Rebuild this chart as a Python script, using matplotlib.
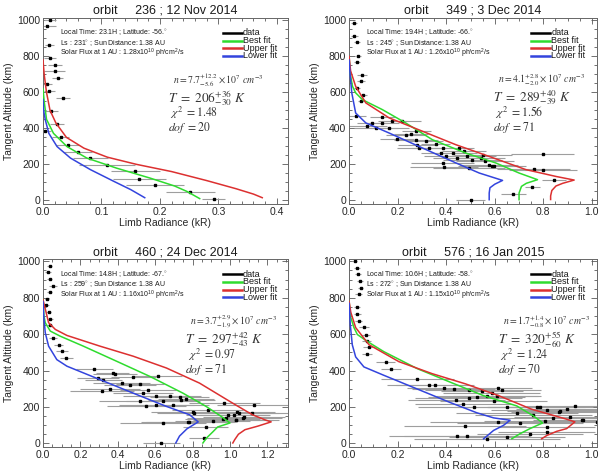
import matplotlib
matplotlib.use("Agg")
import matplotlib.pyplot as plt
from matplotlib.ticker import MultipleLocator

plt.rcParams['font.family'] = ['Liberation Sans', 'DejaVu Sans']
plt.rcParams['mathtext.fontset'] = 'custom'
plt.rcParams['mathtext.rm'] = 'Liberation Sans'
plt.rcParams['mathtext.it'] = 'Liberation Sans:italic'

# ---------------- panel 1 : orbit 236 ----------------
title1 = 'orbit     236 ; 12 Nov 2014'
info1 = ['Local Time: 23.1H ; Latitude: -56.$^{\\circ}$',
         'Ls : 231$^{\\circ}$ ; Sun Distance: 1.38 AU',
         'Solar Flux at 1 AU : 1.28x10$^{10}$ ph/cm$^{2}$/s']
fit1 = ['n = 7.7^{+12.2}_{-5.6}', '206^{+36}_{-30}', '1.48', '20']
rad1 = [0.012, 0.006, 0.011, 0.012, 0.021, 0.020, 0.025, 0.006, 0.011, 0.034, 0.014, 0.024,
        0.004, 0.030, 0.042, 0.059, 0.081, 0.109, 0.158, 0.165, 0.192, 0.252, 0.292]
alt1 = [1004, 969, 862, 788, 751, 718, 681, 644, 609, 570, 498, 424,
        387, 351, 308, 271, 234, 197, 161, 120, 83, 46, 7]
err1 = [0.010, 0.017, 0.008, 0.010, 0.012, 0.018, 0.010, 0.010, 0.010, 0.012, 0.012, 0.012,
        0.010, 0.015, 0.020, 0.025, 0.030, 0.048, 0.042, 0.045, 0.050, 0.042, 0.020]
best1_r = [0.0, 0.002, 0.006, 0.018, 0.041, 0.075, 0.126, 0.183, 0.225, 0.246, 0.268]
best1_a = [620, 550, 450, 372, 299, 235, 179, 124, 80, 50, 10]
up1_r = [0.0, 0.002, 0.006, 0.012, 0.022, 0.040, 0.070, 0.110, 0.160, 0.220, 0.280, 0.330, 0.360, 0.375]
up1_a = [780, 700, 600, 500, 430, 350, 290, 240, 200, 160, 110, 65, 35, 15]
low1_r = [0.0, 0.001, 0.004, 0.010, 0.024, 0.047, 0.081, 0.121, 0.150, 0.174]
low1_a = [560, 500, 446, 372, 299, 235, 171, 106, 60, 15]

# ---------------- panel 2 : orbit 349 ----------------
title2 = 'orbit     349 ; 3 Dec 2014'
info2 = ['Local Time: 19.4H ; Latitude: -66.$^{\\circ}$',
         'Ls : 245$^{\\circ}$ ; Sun Distance: 1.38 AU',
         'Solar Flux at 1 AU : 1.26x10$^{10}$ ph/cm$^{2}$/s']
fit2 = ['n = 4.1^{+2.8}_{-2.0}', '289^{+40}_{-39}', '1.56', '71']
rad2 = [0.021, 0.021, 0.034, 0.038, 0.034, 0.052, 0.049, 0.034, 0.058, 0.048, 0.030, 0.137,
        0.178, 0.217, 0.094, 0.135, 0.165, 0.075, 0.110, 0.277, 0.254, 0.199, 0.275, 0.233,
        0.316, 0.281, 0.357, 0.385, 0.288, 0.330, 0.453, 0.474, 0.426, 0.378, 0.487, 0.446,
        0.398, 0.543, 0.508, 0.798, 0.577, 0.588, 0.494, 0.385, 0.392, 0.760, 0.800, 0.845,
        0.755, 0.677, 0.501, 0.550, 0.560, 0.595]
alt2 = [985, 915, 878, 804, 767, 698, 661, 624, 587, 550, 470, 463,
        439, 439, 430, 430, 402, 411, 402, 383, 371, 341, 337, 365,
        328, 309, 313, 291, 291, 291, 291, 272, 263, 263, 244, 235,
        244, 235, 226, 258, 196, 193, 182, 208, 185, 176, 171, 111,
        74, 37, 2, 254, 217, 193]
err2 = [0.012, 0.015, 0.012, 0.010, 0.012, 0.020, 0.015, 0.012, 0.015, 0.012, 0.040, 0.050,
        0.060, 0.080, 0.060, 0.070, 0.080, 0.080, 0.090, 0.060, 0.070, 0.070, 0.090, 0.080,
        0.070, 0.080, 0.060, 0.080, 0.090, 0.070, 0.060, 0.090, 0.100, 0.080, 0.120, 0.100,
        0.090, 0.100, 0.120, 0.130, 0.120, 0.140, 0.150, 0.130, 0.140, 0.150, 0.140, 0.050,
        0.030, 0.050, 0.060, 0.120, 0.120, 0.100]
best2_r = [0.0, 0.005, 0.014, 0.027, 0.055, 0.137, 0.233, 0.343, 0.480, 0.604, 0.700, 0.776,
           0.730, 0.710, 0.700, 0.700]
best2_a = [790, 700, 633, 597, 559, 504, 430, 337, 263, 208, 152, 115, 95, 78, 41, 4]
up2_r = [0.0, 0.006, 0.027, 0.069, 0.165, 0.302, 0.440, 0.577, 0.728, 0.852, 0.927, 0.880,
         0.852, 0.835, 0.830, 0.830]
up2_a = [800, 720, 633, 541, 458, 384, 309, 244, 171, 133, 113, 95, 80, 55, 25, 5]
low2_r = [0.0, 0.004, 0.011, 0.027, 0.069, 0.165, 0.302, 0.440, 0.536, 0.632, 0.600, 0.580,
          0.577, 0.577]
low2_a = [780, 700, 597, 485, 430, 374, 291, 208, 152, 111, 90, 70, 41, 4]

# ---------------- panel 3 : orbit 460 ----------------
title3 = 'orbit     460 ; 24 Dec 2014'
info3 = ['Local Time: 14.8H ; Latitude: -67.$^{\\circ}$',
         'Ls : 259$^{\\circ}$ ; Sun Distance: 1.38 AU',
         'Solar Flux at 1 AU : 1.16x10$^{10}$ ph/cm$^{2}$/s']
fit3 = ['n = 3.7^{+2.9}_{-1.9}', '297^{+42}_{-43}', '0.97', '71']
rad3 = [0.035, 0.027, 0.035, 0.053, 0.035, 0.021, 0.018, 0.030, 0.039, 0.035, 0.053, 0.083,
        0.101, 0.124, 0.275, 0.372, 0.385, 0.294, 0.323, 0.482, 0.615, 0.420, 0.465, 0.518,
        0.358, 0.314, 0.562, 0.535, 0.606, 0.677, 0.730, 0.766, 0.740, 0.642, 0.518, 0.606,
        0.553, 0.695, 0.807, 0.970, 1.130, 1.050, 1.120, 1.076, 1.032, 0.979, 0.908, 0.775,
        0.642, 0.869, 0.860, 0.633, 1.030, 1.067, 1.023, 1.040, 0.987, 0.881, 0.960, 0.783, 0.800]
alt3 = [972, 939, 902, 866, 832, 796, 759, 722, 685, 648, 580, 543,
        506, 470, 409, 387, 379, 359, 350, 363, 368, 331, 322, 326,
        298, 285, 295, 276, 262, 262, 254, 243, 239, 230, 230, 212,
        203, 212, 166, 221, 212, 166, 166, 147, 129, 138, 123, 116,
        110, 92, 28, 2, 131, 142, 155, 173, 155, 182, 136, 118, 173]
err3 = [0.015, 0.015, 0.015, 0.020, 0.015, 0.012, 0.012, 0.015, 0.015, 0.015, 0.020, 0.025,
        0.030, 0.035, 0.100, 0.090, 0.120, 0.110, 0.100, 0.120, 0.130, 0.150, 0.140, 0.130,
        0.160, 0.170, 0.150, 0.160, 0.180, 0.170, 0.160, 0.150, 0.180, 0.200, 0.220, 0.200,
        0.210, 0.190, 0.200, 0.190, 0.200, 0.210, 0.200, 0.220, 0.230, 0.210, 0.200, 0.250,
        0.230, 0.120, 0.080, 0.100, 0.200, 0.210, 0.190, 0.200, 0.220, 0.190, 0.200, 0.230, 0.220]
best3_r = [0.0, 0.005, 0.012, 0.039, 0.092, 0.216, 0.394, 0.571, 0.748, 0.872, 0.950, 1.000,
           0.934, 0.907, 0.875, 0.855]
best3_a = [790, 700, 663, 617, 589, 534, 451, 368, 276, 203, 150, 112, 90, 62, 30, 2]
up3_r = [0.0, 0.030, 0.066, 0.128, 0.305, 0.482, 0.660, 0.837, 1.014, 1.120, 1.190, 1.220,
         1.150, 1.080, 1.045, 1.025, 1.015]
up3_a = [790, 663, 626, 593, 534, 479, 414, 331, 221, 157, 128, 118, 95, 75, 50, 20, 2]
low3_r = [0.0, 0.004, 0.012, 0.030, 0.074, 0.128, 0.305, 0.482, 0.660, 0.784, 0.830, 0.770,
          0.730, 0.710]
low3_a = [780, 700, 608, 534, 460, 424, 350, 276, 203, 157, 118, 80, 40, 2]

# ---------------- panel 4 : orbit 576 ----------------
title4 = 'orbit     576 ; 16 Jan 2015'
info4 = ['Local Time: 10.6H ; Latitude: -58.$^{\\circ}$',
         'Ls : 272$^{\\circ}$ ; Sun Distance: 1.38 AU',
         'Solar Flux at 1 AU : 1.15x10$^{10}$ ph/cm$^{2}$/s']
fit4 = ['n = 1.7^{+1.4}_{-0.8}', '320^{+55}_{-60}', '1.24', '70']
rad4 = [0.023, 0.034, 0.036, 0.044, 0.047, 0.040, 0.031, 0.034, 0.040, 0.061, 0.068, 0.072,
        0.082, 0.075, 0.150, 0.173, 0.280, 0.328, 0.355, 0.389, 0.430, 0.492, 0.547, 0.615,
        0.629, 0.588, 0.567, 0.526, 0.492, 0.609, 0.441, 0.595, 0.471, 0.513, 0.650, 0.773,
        0.869, 0.896, 0.930, 0.814, 0.691, 0.759, 0.841, 0.910, 0.958, 1.019, 0.807, 0.704,
        0.615, 0.478, 0.814, 0.745, 0.814, 0.650, 0.567, 0.485, 0.444, 0.866, 0.786, 0.964]
alt4 = [1000, 966, 929, 893, 856, 819, 748, 710, 673, 639, 598, 561,
        527, 490, 449, 411, 351, 318, 323, 305, 299, 292, 286, 305,
        295, 277, 258, 254, 249, 262, 239, 235, 217, 198, 198, 198,
        179, 187, 206, 183, 168, 155, 137, 146, 127, 118, 123, 112,
        118, 95, 90, 53, 62, 34, 25, 38, 41, 174, 202, 127]
err4 = [0.010, 0.012, 0.012, 0.012, 0.012, 0.015, 0.012, 0.015, 0.015, 0.020, 0.020, 0.020,
        0.025, 0.020, 0.040, 0.040, 0.150, 0.170, 0.160, 0.150, 0.170, 0.180, 0.170, 0.140,
        0.160, 0.200, 0.210, 0.200, 0.220, 0.180, 0.200, 0.220, 0.200, 0.230, 0.220, 0.200,
        0.220, 0.210, 0.200, 0.230, 0.250, 0.240, 0.220, 0.230, 0.200, 0.180, 0.250, 0.260,
        0.280, 0.250, 0.200, 0.220, 0.200, 0.240, 0.300, 0.260, 0.280, 0.200, 0.220, 0.200]
best4_r = [0.0, 0.005, 0.020, 0.034, 0.075, 0.143, 0.280, 0.417, 0.554, 0.690, 0.760, 0.797,
           0.745, 0.704, 0.670]
best4_a = [780, 700, 636, 598, 560, 504, 411, 336, 262, 206, 150, 112, 81, 53, 25]
up4_r = [0.0, 0.007, 0.027, 0.082, 0.205, 0.342, 0.479, 0.616, 0.753, 0.890, 0.930, 0.896,
         0.855, 0.814, 0.793]
up4_a = [780, 720, 636, 542, 449, 383, 327, 262, 187, 135, 118, 81, 66, 43, 25]
low4_r = [0.0, 0.005, 0.013, 0.027, 0.061, 0.143, 0.280, 0.417, 0.526, 0.595, 0.663, 0.636,
          0.595, 0.554]
low4_a = [770, 650, 542, 475, 420, 374, 299, 224, 168, 140, 127, 99, 71, 25]

GREEN = '#2edc2e'
RED = '#dc3030'
BLUE = '#3344dd'


def draw_panel(ax, title, info, fit, rad, alt, err, best, up, low, xmax, xmajor, xminor, eqx):
    ax.errorbar(rad, alt, xerr=err, fmt='s', ms=2.0, mfc='black', mec='black',
                ecolor='0.62', elinewidth=0.8, capsize=0, zorder=2)
    ax.plot(best[0], best[1], color=GREEN, lw=1.1, zorder=3)
    ax.plot(up[0], up[1], color=RED, lw=1.1, zorder=3)
    ax.plot(low[0], low[1], color=BLUE, lw=1.1, zorder=3)

    ax.set_xlim(0, xmax)
    ax.set_ylim(-20, 1012)
    ax.xaxis.set_major_locator(MultipleLocator(xmajor))
    ax.xaxis.set_minor_locator(MultipleLocator(xminor))
    ax.yaxis.set_major_locator(MultipleLocator(200))
    ax.yaxis.set_minor_locator(MultipleLocator(50))
    ax.xaxis.set_major_formatter(lambda v, p: '%.1f' % v)
    ax.tick_params(which='both', direction='in', top=True, right=True, colors='0.35',
                   labelcolor='0.15', labelsize=7.5, width=0.6)
    ax.tick_params(which='major', length=4, pad=2)
    ax.tick_params(which='minor', length=2)
    for s in ax.spines.values():
        s.set_color('0.4')
        s.set_linewidth(0.7)
    ax.set_title(title, fontsize=9, color='0.1', pad=3)
    ax.set_xlabel('Limb Radiance (kR)', fontsize=7.5, color='0.15', labelpad=1)
    ax.set_ylabel('Tangent Altitude (km)', fontsize=7.5, color='0.15', labelpad=2)

    for i, line in enumerate(info):
        ax.text(0.07, 0.92 - i * 0.056, line, transform=ax.transAxes, fontsize=5.0,
                color='0.1', va='center')

    # legend
    names = ['data', 'Best fit', 'Upper fit', 'Lower fit']
    cols = ['black', GREEN, RED, BLUE]
    for i, (nm, c) in enumerate(zip(names, cols)):
        y = 0.92 - i * 0.041
        ax.plot([0.735, 0.812], [y, y], color=c, lw=1.8, transform=ax.transAxes, clip_on=False)
        ax.text(0.816, y, nm, transform=ax.transAxes, fontsize=6.5, color='0.1',
                va='center', ha='left')

    kw = dict(transform=ax.transAxes, color='0.2', math_fontfamily='stix', va='center')
    ax.text(eqx + 0.02, 0.665, '$' + fit[0] + r'\times 10^{7}\ cm^{-3}$', fontsize=7, **kw)
    ax.text(eqx, 0.572, '$T\\ =\\ ' + fit[1] + r'\ K$', fontsize=9.5, **kw)
    ax.text(eqx + 0.01, 0.488, r'$\chi^{2}\ {=}' + fit[2] + '$', fontsize=8.5, **kw)
    ax.text(eqx, 0.41, r'$dof\ = ' + fit[3] + '$', fontsize=8.5, **kw)


fig = plt.figure(figsize=(6.04, 4.73), dpi=100)
ax1 = fig.add_axes([0.0712, 0.5687, 0.4056, 0.393])
ax2 = fig.add_axes([0.578, 0.5687, 0.41, 0.393])
ax3 = fig.add_axes([0.0712, 0.055, 0.4056, 0.397])
ax4 = fig.add_axes([0.578, 0.055, 0.41, 0.397])

draw_panel(ax1, title1, info1, fit1, rad1, alt1, err1, (best1_r, best1_a), (up1_r, up1_a),
           (low1_r, low1_a), 0.419, 0.1, 0.02, 0.51)
draw_panel(ax2, title2, info2, fit2, rad2, alt2, err2, (best2_r, best2_a), (up2_r, up2_a),
           (low2_r, low2_a), 1.02, 0.2, 0.05, 0.58)
draw_panel(ax3, title3, info3, fit3, rad3, alt3, err3, (best3_r, best3_a), (up3_r, up3_a),
           (low3_r, low3_a), 1.31, 0.2, 0.05, 0.58)
draw_panel(ax4, title4, info4, fit4, rad4, alt4, err4, (best4_r, best4_a), (up4_r, up4_a),
           (low4_r, low4_a), 1.02, 0.2, 0.05, 0.60)

fig.savefig('out.png', dpi=100)
